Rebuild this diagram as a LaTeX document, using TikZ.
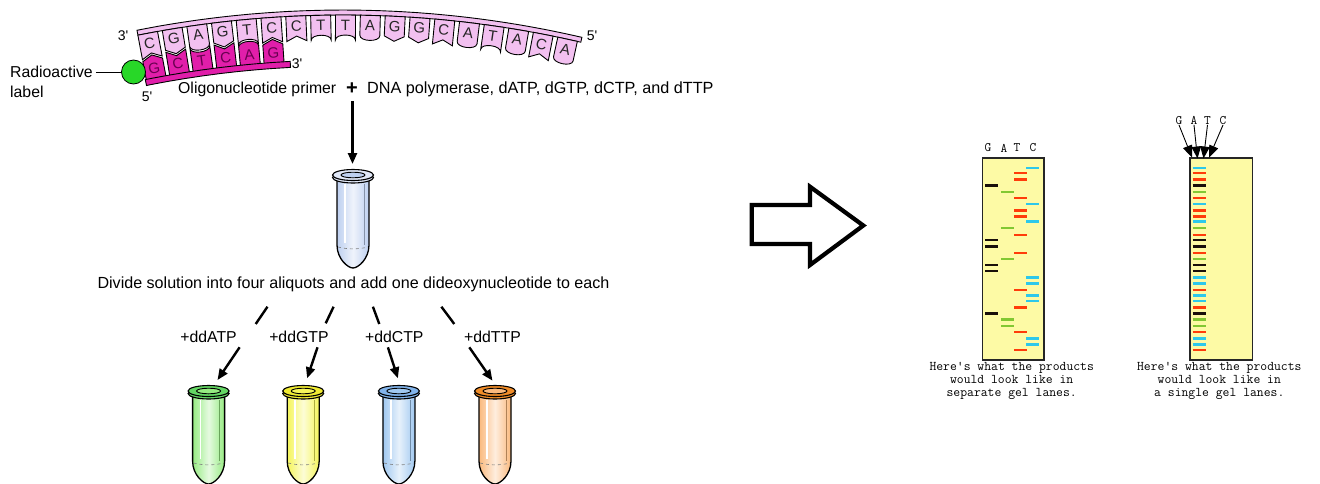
\documentclass[tikz,border=0pt]{standalone}
\usepackage{fontspec}
\setmainfont{Liberation Sans}
\usetikzlibrary{arrows.meta}

\definecolor{tpink}{RGB}{242,192,240}
\definecolor{pmag}{RGB}{225,30,170}
\definecolor{ptext}{RGB}{105,0,80}
\definecolor{dotgreen}{RGB}{40,215,40}
\definecolor{gelbg}{RGB}{253,250,165}
\definecolor{lane0}{RGB}{25,15,10}
\definecolor{lane1}{RGB}{130,200,50}
\definecolor{lane2}{RGB}{255,60,10}
\definecolor{lane3}{RGB}{45,200,235}
\definecolor{tubeblue}{RGB}{190,208,240}
\definecolor{rimblue}{RGB}{225,232,248}
\definecolor{tubegreen}{RGB}{150,235,130}
\definecolor{rimgreen}{RGB}{100,215,100}
\definecolor{tubeyellow}{RGB}{245,245,90}
\definecolor{rimyellow}{RGB}{240,235,50}
\definecolor{tubesky}{RGB}{160,200,240}
\definecolor{rimsky}{RGB}{130,180,235}
\definecolor{tubeorange}{RGB}{250,185,125}
\definecolor{rimorange}{RGB}{240,140,40}

% microcentrifuge tube: #1,#2 rim centre, #3 body colour, #4 rim colour, #5 name
\newcommand\eppendorf[5]{%
  \begin{scope}[shift={(#1,#2)}]
    \coordinate (#5) at (0,0);
    \shade[left color=#3, right color=#3, middle color=#3!25!white]
      (-16,2) -- (-16,70) .. controls (-16,84) and (-5,93) .. (0,93)
      .. controls (5,93) and (16,84) .. (16,70) -- (16,2) -- cycle;
    \draw[white, line width=1.6pt] (-8,9) -- (-8,68);
    \draw[#3!70!black, line width=0.4pt] (11,9) -- (11,70);
    \draw[gray, dashed, line width=0.6pt] (-15,72) .. controls (-5,74.5) and (5,74.5) .. (15,72);
    \draw[line width=1.3pt] (-16,2) -- (-16,70) .. controls (-16,84) and (-5,93) .. (0,93)
      .. controls (5,93) and (16,84) .. (16,70) -- (16,2);
    \filldraw[fill=#4, line width=1.1pt] (0,2.5) ellipse[x radius=20.5, y radius=5.5];
    \filldraw[fill=#4, line width=1.1pt] (0,0) ellipse[x radius=20.5, y radius=5.5];
    \filldraw[fill=#3, line width=0.9pt] (0,0) ellipse[x radius=12, y radius=2.8];
  \end{scope}}

\begin{document}
\begin{tikzpicture}[x=1pt, y=-1pt,
  sans/.style={font=\fontsize{15.8}{18}\selectfont, inner sep=0pt},
  prime/.style={font=\fontsize{14}{16}\selectfont, inner sep=0pt},
  nuc/.style={font=\fontsize{15}{16}\selectfont, inner sep=0pt, transform shape},
  tstrand/.style={draw=black, fill=tpink, line width=0.9pt},
  pstrand/.style={draw=black, fill=pmag, line width=0.9pt},
  flow/.style={line width=2.4pt, -{Triangle[length=11pt,width=9pt]}},
  tick/.style={line width=2.4pt},
  gelbox/.style={draw=black!85, line width=1.3pt, fill=gelbg},
  gellabel/.style={font=\ttfamily\fontsize{13}{14}\selectfont, inner sep=0pt},
  caption/.style={font=\ttfamily\fontsize{13.3}{13.3}\selectfont, align=center, inner sep=0pt},
  fan/.style={line width=0.9pt, -{Triangle[length=12pt,width=9.5pt]}},
]
\useasboundingbox (0,0) rectangle (1320,483);
\clip (0,0) rectangle (1320,483);

% ---------- template strand ----------
\begin{scope}[shift={(343,1069)}]
  \draw[tstrand] plot[domain=-101.22:-76.96, samples=60] (\x:1059)
    -- plot[domain=-76.96:-101.22, samples=60] (\x:1054) -- cycle;
\end{scope}
\foreach \b/\rd/\sb/\mb [count=\i from 0] in
  {C/0/30/25, G/0/25/30, A/1/25/30, G/0/25/30, T/1/30/25, C/0/30/25,
   C/0/30/25, T/1/30/25, T/1/30/25, A/1/25/30, G/0/25/30, G/0/25/30,
   C/0/30/25, A/1/25/30, T/1/30/25, A/1/25/30, C/0/30/25, A/1/25/30}{
  \begin{scope}[shift={(343,1069)}, rotate={10.68-1.352*\i}, shift={(0,-1059)}]
    \pgfmathsetmacro\cy{\sb+(\mb-\sb)*4/3}
    \ifnum\rd=1
      \draw[tstrand] (-10,5) -- (-10,\sb) .. controls (-10,\cy) and (10,\cy) .. (10,\sb) -- (10,5) -- cycle;
    \else
      \draw[tstrand] (-10,5) -- (-10,\sb) -- (0,\mb) -- (10,\sb) -- (10,5) -- cycle;
    \fi
    \node[nuc, text=black!85] (t\i) at (0,15) {\b};
  \end{scope}
}

% ---------- primer ----------
\foreach \b/\rd/\sb/\mb [count=\i from 0] in
  {G/0/32/27, C/0/27/32, T/1/27/32, C/0/27/32, A/1/32/27, G/0/32/27}{
  \begin{scope}[shift={(343,1069)}, rotate={10.68-1.352*\i}, shift={(0,-1059)}]
    \pgfmathsetmacro\cy{\sb+(\mb-\sb)*4/3}
    \ifnum\rd=1
      \draw[pstrand] (-10,\sb) .. controls (-10,\cy) and (10,\cy) .. (10,\sb) -- (10,51) -- (-10,51) -- cycle;
    \else
      \draw[pstrand] (-10,\sb) -- (0,\mb) -- (10,\sb) -- (10,51) -- (-10,51) -- cycle;
    \fi
    \node[nuc, text=ptext] (p\i) at (0,40.5) {\b};
  \end{scope}
}
\begin{scope}[shift={(343,1069)}]
  \draw[pstrand] plot[domain=-101.3:-93.0, samples=40] (\x:1009)
    -- plot[domain=-93.0:-101.3, samples=40] (\x:1003) -- cycle;
\end{scope}

% radioactive label
\node[circle, draw, fill=dotgreen, minimum size=24pt, inner sep=0pt, line width=0.8pt] (dot) at (133.5,72) {};
\node[sans, anchor=west] (radio) at (10,72) {Radioactive};
\node[sans, anchor=west] (radio2) at (10,91.5) {label};
\draw[line width=0.9pt] ([xshift=3pt]radio.east) -- (dot.west);

% strand ends
\node[prime] (t3) at (123,36) {3\textquotesingle};
\node[prime] (t5) at (592,36) {5\textquotesingle};
\node[prime] (p5) at (147,97) {5\textquotesingle};
\node[prime] (p3) at (297,64) {3\textquotesingle};

% reaction mix
\node[sans, anchor=west] (oligo) at (178,89) {Oligonucleotide primer};
\node[font=\bfseries\fontsize{20}{20}\selectfont, inner sep=0pt] (plus) at (352,88.5) {+};
\node[font=\fontsize{16.2}{18}\selectfont, inner sep=0pt, anchor=west] (mix) at (367,89)
  {DNA polymerase, dATP, dGTP, dCTP, and dTTP};

\coordinate (mixdown) at (352.5,101);
\coordinate (tubetop) at (352.5,164);
\draw[flow] (mixdown) -- (tubetop);

\eppendorf{353}{175}{tubeblue}{rimblue}{tube0}

\node[font=\fontsize{16.1}{19}\selectfont, inner sep=0pt] (divide) at (353.5,284.5)
  {Divide solution into four aliquots and add one dideoxynucleotide to each};

% split lines
\coordinate (s1a) at (267.5,306.7); \coordinate (s1b) at (255.7,324);
\coordinate (s2a) at (333.6,306.7); \coordinate (s2b) at (325.7,323.3);
\coordinate (s3a) at (372.9,306.7); \coordinate (s3b) at (379.3,324);
\coordinate (s4a) at (441.4,306.7); \coordinate (s4b) at (454.3,324);
\draw[tick] (s1a) -- (s1b);
\draw[tick] (s2a) -- (s2b);
\draw[tick] (s3a) -- (s3b);
\draw[tick] (s4a) -- (s4b);

\node[sans] (ddA) at (208.6,337.3) {+ddATP};
\node[sans] (ddG) at (298.9,337.3) {+ddGTP};
\node[sans] (ddC) at (394.3,337.3) {+ddCTP};
\node[sans] (ddT) at (492.5,337.3) {+ddTTP};

\coordinate (a1a) at (239.6,347.3); \coordinate (a1b) at (217.5,380);
\coordinate (a2a) at (317.5,347.3); \coordinate (a2b) at (307.1,378.3);
\coordinate (a3a) at (387.9,347.3); \coordinate (a3b) at (397.9,378.3);
\coordinate (a4a) at (469.3,347.3); \coordinate (a4b) at (492.5,380.7);
\draw[flow] (a1a) -- (a1b);
\draw[flow] (a2a) -- (a2b);
\draw[flow] (a3a) -- (a3b);
\draw[flow] (a4a) -- (a4b);

\eppendorf{208.6}{391}{tubegreen}{rimgreen}{tubeA}
\eppendorf{303.2}{391}{tubeyellow}{rimyellow}{tubeG}
\eppendorf{398.9}{391}{tubesky}{rimsky}{tubeC}
\eppendorf{495}{391}{tubeorange}{rimorange}{tubeT}

% ---------- big outline arrow ----------
\draw[line width=4.2pt, fill=white, line join=miter]
  (751.7,205) -- (810,205) -- (810,186.7) -- (863.3,225.5) -- (810,265) -- (810,244) -- (751.7,244) -- cycle;

% ---------- gels ----------
\node[gelbox, minimum width=61.6pt, minimum height=202pt, inner sep=0pt, anchor=north west] (gel1) at (981.7,157.3) {};
\node[gelbox, minimum width=62.4pt, minimum height=202pt, inner sep=0pt, anchor=north west] (gel2) at (1189.3,157.3) {};

\foreach \ln/\y/\w in {3/167.7/1.8, 2/173.3/1.8, 2/179.3/3, 0/185.3/3, 1/192/1.8,
  2/197.7/1.8, 3/203.7/1.8, 2/210/3, 2/216.3/3, 3/221.7/3, 1/228.3/1.8,
  2/234.7/1.8, 0/240/1.8, 0/246.3/3, 2/253.3/1.8, 1/258.7/1.8, 0/264.7/1.8,
  0/271/1.8, 3/277.3/3, 3/283/3, 2/289.7/1.8, 3/295.7/3, 3/301/1.8,
  2/307.7/3, 0/313.7/3, 1/319.3/3, 1/325.7/1.8, 2/331.7/1.8, 3/338.7/3,
  3/344.3/3, 2/350.3/1.8}{
  \pgfmathsetmacro\xs{{985,1001,1014,1026}[\ln]}
  \draw[line width=\w pt, color=lane\ln] (\xs,\y) -- ++(13,0);
  \draw[line width=\w pt, color=lane\ln] (1192.7,\y) -- ++(13.3,0);
}

\node[gellabel] (g1G) at (988,148) {G};
\node[gellabel] (g1A) at (1004,148) {A};
\node[gellabel] (g1T) at (1017,148) {T};
\node[gellabel] (g1C) at (1033,148) {C};

\node[gellabel] (g2G) at (1179,120.7) {G};
\node[gellabel] (g2A) at (1194,120.7) {A};
\node[gellabel] (g2T) at (1207.5,120.7) {T};
\node[gellabel] (g2C) at (1223,120.7) {C};
\coordinate (fG) at (1192,157.5);
\coordinate (fA) at (1197.5,158.5);
\coordinate (fT) at (1203.5,158.5);
\coordinate (fC) at (1209,157.5);
\draw[fan] (g2G.south) -- (fG);
\draw[fan] (g2A.south) -- (fA);
\draw[fan] (g2T.south) -- (fT);
\draw[fan] (g2C.south) -- (fC);

\node[caption] (cap1) at (1011.7,381) {Here\textquotesingle s what the products\\would look like in\\separate gel lanes.};
\node[caption] (cap2) at (1219.3,380.7) {Here\textquotesingle s what the products\\would look like in\\a single gel lanes.};

\end{tikzpicture}
\end{document}
